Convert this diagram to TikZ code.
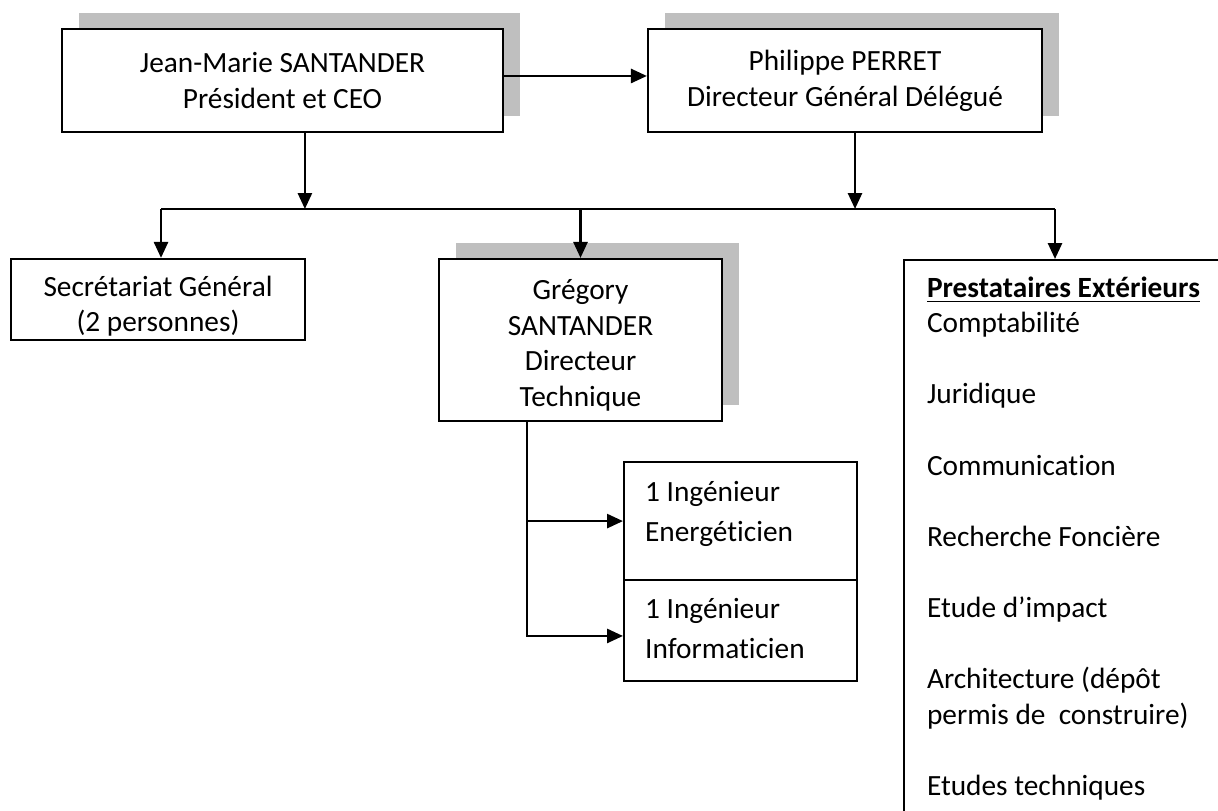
\documentclass[tikz,border=0pt]{standalone}
\usepackage{fontspec}
\setmainfont{Carlito}[Ligatures={TeX,NoCommon}]
\usetikzlibrary{arrows.meta,shadows}

\begin{document}
\begin{tikzpicture}[x=0.375pt, y=-0.375pt,
	box/.style={draw, line width=0.8pt, fill=white, align=center, font=\fontsize{11}{13.4}\selectfont},
	shade/.style={drop shadow={shadow xshift=6.4pt, shadow yshift=6pt, fill=gray!50, opacity=1}},
	wire/.style={line width=0.8pt},
	link/.style={line width=1pt, -{Triangle[length=6pt,width=5.25pt]}}]
	\useasboundingbox (0,0) rectangle (1218,810);
	\clip (0,0) rectangle (1218,810);

	% top level
	\node[box, shade, minimum width=165.4pt, minimum height=38.6pt] (jms) at (282.5,80.5)
		{Jean-Marie SANTANDER\\Président et CEO};
	\node[box, shade, minimum width=147.75pt, minimum height=38.6pt] (pp) at (845,80.5)
		{Philippe PERRET\\Directeur Général Délégué};

	% second level
	\node[box, inner sep=0pt] (sec) at (158,299.5)
		{\parbox[c][30.4pt][c]{110.25pt}{\centering\vspace*{5pt}Secrétariat Général\\(2 personnes)}};
	\node[box, shade, inner sep=0pt] (greg) at (580.5,340)
		{\parbox[c][60.75pt][c]{106.1pt}{\centering\vspace*{4pt}Grégory\\SANTANDER\\Directeur\\Technique}};
	\node[box, anchor=north west, inner xsep=8.6pt, inner ysep=0pt] (prest) at (903,259)
		{\parbox[c][225pt][t]{130pt}{\raggedright\fontsize{11}{13.35}\selectfont
		\rule{0pt}{13.9pt}\textbf{\underline{Prestataires Extérieurs}}\\
		Comptabilité\\[13.35pt]
		Juridique\\[13.35pt]
		Communication\\[13.35pt]
		Recherche Foncière\\[13.35pt]
		Etude d’impact\\[13.35pt]
		Architecture (dépôt\\
		permis de\ \ construire)\\[13.35pt]
		Etudes techniques}};

	% engineers
	\node[box, anchor=north west, inner xsep=7.9pt, inner ysep=0pt] (ing1) at (623,461)
		{\parbox[c][44.25pt][t]{71.6pt}{\raggedright\fontsize{11}{15.2}\selectfont
		\rule{0pt}{14.6pt}1 Ingénieur\\Energéticien}};
	\node[box, anchor=north west, inner xsep=7.9pt, inner ysep=0pt] (ing2) at (623,579)
		{\parbox[c][37.9pt][t]{71.6pt}{\raggedright\fontsize{11}{15.2}\selectfont
		\rule{0pt}{14.3pt}1 Ingénieur\\Informaticien}};

	\coordinate (bus) at (161,209);
	\coordinate (busend) at (1055,209);

	\draw[link] ([yshift=1.7pt]jms.east) -- ([yshift=1.7pt]jms.east -| pp.west);
	\draw[link] ([xshift=8.4pt]jms.south) -- ([xshift=8.4pt]jms.south |- bus);
	\draw[link] ([xshift=3.75pt]pp.south) -- ([xshift=3.75pt]pp.south |- bus);
	\draw[wire] (bus) -- (busend);
	\draw[link] (bus) -- (bus |- sec.north);
	\draw[link] (greg.north |- bus) -- (greg.north);
	\draw[link] (busend) -- (busend |- prest.north);
	\draw[link] ([xshift=-20.1pt]greg.south) |- ([yshift=-2pt]ing2.west);
	\draw[link] ([xshift=-20.1pt]greg.south |- ing1.west) -- (ing1.west);
\end{tikzpicture}
\end{document}
